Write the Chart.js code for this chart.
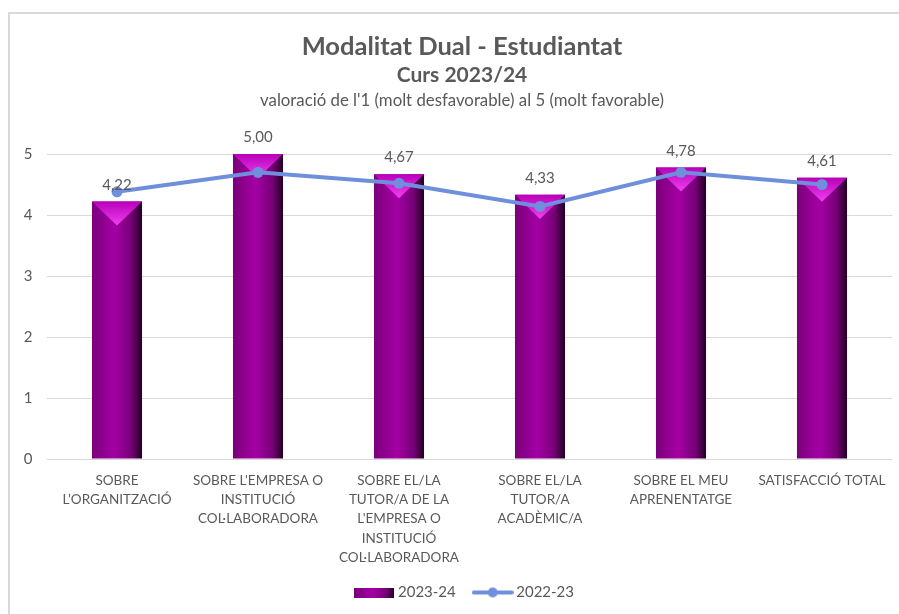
<!DOCTYPE html>
<html>
<head>
<meta charset="utf-8">
<script src="https://cdn.jsdelivr.net/npm/chart.js@4.4.1/dist/chart.umd.min.js"></script>
<style>
  html, body { margin: 0; padding: 0; background: #ffffff; }
  #wrap { position: relative; width: 899px; height: 614px; overflow: hidden; background: #fff; }
  #frame { position: absolute; left: 8px; top: 12px; width: 1000px; height: 1000px;
           border-top: 2px solid #d9d9d9; border-left: 2px solid #d9d9d9; box-sizing: border-box; }
  #c { position: absolute; left: 0; top: 0; }
  .t { position: absolute; left: 0; width: 924px; text-align: center; color: #595959;
       font-family: Lato, "Open Sans", sans-serif; white-space: nowrap; line-height: 1; }
  #t1 { top: 33px; font-size: 25.5px; font-weight: bold; }
  #t2 { top: 63px; font-size: 21px; font-weight: bold; }
  #t3 { top: 92px; font-size: 16.8px; }
</style>
</head>
<body>
<div id="wrap">
  <div id="frame"></div>
  <canvas id="c" width="899" height="614"></canvas>
  <div class="t" id="t1">Modalitat Dual - Estudiantat</div>
  <div class="t" id="t2">Curs 2023/24</div>
  <div class="t" id="t3">valoració de l'1 (molt desfavorable) al 5 (molt favorable)</div>
</div>
<script>
const categories = [
  ["SOBRE", "L’ORGANITZACIÓ"],
  ["SOBRE L'EMPRESA O", "INSTITUCIÓ", "COL·LABORADORA"],
  ["SOBRE EL/LA", "TUTOR/A DE LA", "L'EMPRESA O", "INSTITUCIÓ", "COL·LABORADORA"],
  ["SOBRE EL/LA", "TUTOR/A", "ACADÈMIC/A"],
  ["SOBRE EL MEU", "APRENENTATGE"],
  ["SATISFACCIÓ TOTAL"]
];
const seriesNames = ["2023-24", "2022-23"];
const values2324 = [4.22, 5.00, 4.67, 4.33, 4.78, 4.61];
const values2223 = [4.38, 4.70, 4.52, 4.14, 4.70, 4.50];
const yTicks = [0, 1, 2, 3, 4, 5];

const FONT = 'Lato, "Open Sans", sans-serif';
const TEXT = '#595959';
const LINE = '#6f8fdc';
const BAR_PCT = 0.355;

function barGradient(ctx, x0, x1) {
  const g = ctx.createLinearGradient(x0, 0, x1, 0);
  g.addColorStop(0, '#7a007a');
  g.addColorStop(0.45, '#a400a4');
  g.addColorStop(0.78, '#780078');
  g.addColorStop(1, '#220022');
  return g;
}

// legend swatches
const barSwatch = document.createElement('canvas');
barSwatch.width = 40; barSwatch.height = 10;
{ const s = barSwatch.getContext('2d'); s.fillStyle = barGradient(s, 0, 40); s.fillRect(0, 0, 40, 10); }
const lineSwatch = document.createElement('canvas');
lineSwatch.width = 42; lineSwatch.height = 12;
{ const s = lineSwatch.getContext('2d'); s.strokeStyle = LINE; s.fillStyle = LINE; s.lineWidth = 4; s.lineCap = 'round';
  s.beginPath(); s.moveTo(2, 6); s.lineTo(40, 6); s.stroke();
  s.beginPath(); s.arc(21, 6, 5, 0, Math.PI * 2); s.fill(); }

const legendShift = {
  id: 'legendShift',
  afterLayout(chart) {
    if (chart.legend) { chart.legend.left += 20; chart.legend.right += 20; }
  }
};

const barDecor = {
  id: 'barDecor',
  afterDatasetDraw(chart, args) {
    if (args.index !== 0) return;
    const ctx = chart.ctx;
    args.meta.data.forEach(el => {
      const w = el.width, x = el.x, y = el.y;
      const h = Math.min(w * 0.48, el.base - y);
      const g = ctx.createLinearGradient(0, y, 0, y + h);
      g.addColorStop(0, '#b800b8');
      g.addColorStop(1, '#f040f0');
      ctx.save();
      ctx.beginPath();
      ctx.moveTo(x - w / 2, y);
      ctx.lineTo(x + w / 2, y);
      ctx.lineTo(x, y + h);
      ctx.closePath();
      ctx.fillStyle = g;
      ctx.fill();
      ctx.restore();
    });
  },
  afterDatasetsDraw(chart) {
    const ctx = chart.ctx;
    const meta = chart.getDatasetMeta(0);
    ctx.save();
    ctx.font = '15px ' + FONT;
    ctx.fillStyle = TEXT;
    ctx.textAlign = 'center';
    ctx.textBaseline = 'bottom';
    meta.data.forEach((el, i) => {
      ctx.fillText(values2324[i].toFixed(2).replace('.', ','), el.x, el.y - 9);
    });
    ctx.restore();
  }
};

const chart = new Chart(document.getElementById('c'), {
  data: {
    labels: categories,
    datasets: [
      {
        type: 'bar',
        label: seriesNames[0],
        data: values2324,
        order: 1,
        categoryPercentage: 1,
        barPercentage: BAR_PCT,
        backgroundColor: (c) => {
          if (c.type !== 'data') return '#a000a0';
          const xs = c.chart.scales.x;
          if (!xs || !xs.width) return '#a000a0';
          const x = xs.getPixelForValue(c.dataIndex);
          const half = xs.width / categories.length * BAR_PCT / 2;
          return barGradient(c.chart.ctx, x - half, x + half);
        },
        borderWidth: 0
      },
      {
        type: 'line',
        label: seriesNames[1],
        data: values2223,
        order: 0,
        borderColor: LINE,
        backgroundColor: LINE,
        borderWidth: 4,
        pointRadius: 5.5,
        pointBackgroundColor: LINE,
        pointBorderWidth: 0,
        tension: 0
      }
    ]
  },
  options: {
    responsive: false,
    animation: false,
    devicePixelRatio: 1,
    layout: { padding: { left: 0, right: 6.5, top: 154, bottom: 4 } },
    scales: {
      x: {
        grid: { display: false },
        border: { display: false },
        ticks: {
          color: TEXT,
          font: { family: FONT, size: 13.5, lineHeight: 1.426 },
          padding: 4,
          maxRotation: 0,
          autoSkip: false
        },
        afterFit(s) { s.height = 105; }
      },
      y: {
        min: 0, max: 5,
        afterBuildTicks(s) { s.ticks = yTicks.map(v => ({ value: v })); },
        grid: { color: '#d9d9d9', lineWidth: 1, drawTicks: false },
        border: { display: false },
        ticks: { color: TEXT, font: { family: FONT, size: 15 }, padding: 14 },
        afterFit(s) { s.width = 46.5; }
      }
    },
    plugins: {
      tooltip: { enabled: false },
      legend: {
        position: 'bottom',
        labels: {
          color: TEXT,
          font: { family: FONT, size: 15 },
          usePointStyle: true,
          pointStyleWidth: 32,
          boxHeight: 10,
          padding: 21,
          generateLabels(chart) {
            const items = Chart.defaults.plugins.legend.labels.generateLabels(chart);
            items.sort((a, b) => a.datasetIndex - b.datasetIndex);
            items.forEach(it => { it.pointStyle = it.datasetIndex === 0 ? barSwatch : lineSwatch; });
            return items;
          }
        }
      }
    }
  },
  plugins: [barDecor, legendShift]
});
</script>
</body>
</html>
